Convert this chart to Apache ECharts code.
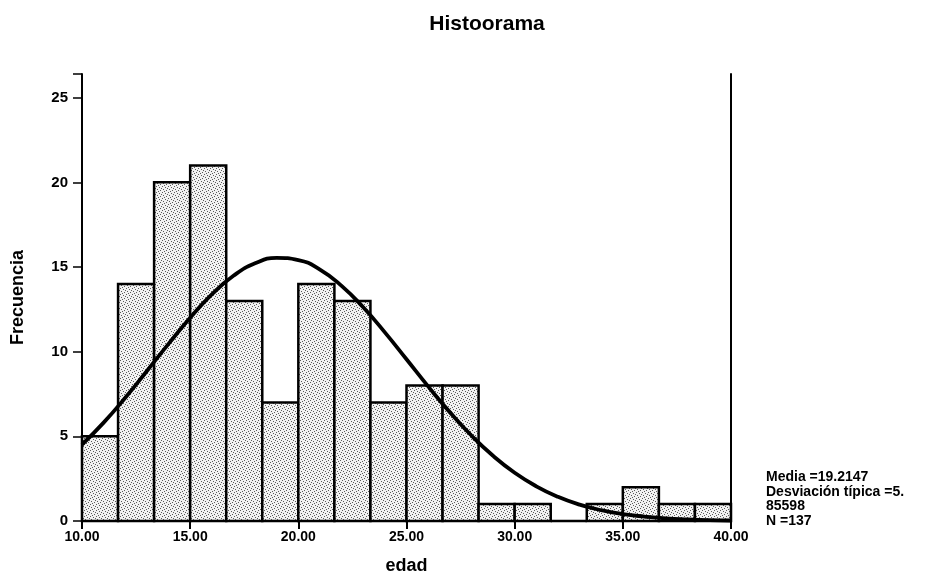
<!DOCTYPE html>
<html>
<head>
<meta charset="utf-8">
<script src="https://cdn.jsdelivr.net/npm/echarts@6/dist/echarts.min.js"></script>
<style>html,body{margin:0;padding:0;background:#fff}#c{width:929px;height:584px}</style>
</head>
<body>
<div id="c"></div>
<script>
// Histogram bins (edad) and frequencies
const binEdges = [10, 11.667, 13.333, 15, 16.667, 18.333, 20, 21.667, 23.333, 25, 26.667, 28.333, 30, 31.667, 33.333, 35, 36.667, 38.333, 40];
const counts = [5, 14, 20, 21, 13, 7, 14, 13, 7, 8, 8, 1, 1, 0, 1, 2, 1, 1];
// Normal curve points
const curveX = [10,11,12,13,14,15,16,17,18,19,20,21,22,23,24,25,26,27,28,29,30,31,32,33,34,35,36,37,38,39,40];
const curveY = [4.51,5.81,7.28,8.86,10.46,12.00,13.38,14.48,15.22,15.54,15.41,14.85,13.89,12.62,11.14,9.55,7.95,6.43,5.05,3.85,2.85,2.05,1.43,0.97,0.64,0.41,0.26,0.15,0.09,0.05,0.03];
const xTickLabels = ["10.00","15.00","20.00","25.00","30.00","35.00","40.00"];
const yTickLabels = ["0","5","10","15","20","25"];
const statsLines = ["Media =19.2147", "Desviación típica =5.", "85598", "N =137"];

// stipple texture
const pc = document.createElement('canvas');
pc.width = 6; pc.height = 6;
const g = pc.getContext('2d');
g.fillStyle = '#f2f2f2'; g.fillRect(0,0,6,6);
g.fillStyle = '#5a5a5a';
[[0,0],[3,1],[1,3],[4,4],[5,2],[2,5]].forEach(p=>g.fillRect(p[0],p[1],1,1));

const barData = counts.map((c,i)=>[binEdges[i], binEdges[i+1], c]);
const lineData = curveX.map((x,i)=>[x, curveY[i]]);

const font = 'Arial, "Liberation Sans", sans-serif';
const chart = echarts.init(document.getElementById('c'));
chart.setOption({
  animation:false,
  backgroundColor:'#fff',
  title:{text:'Histoorama', left:482, top:9, textAlign:'center',
    textStyle:{fontFamily:font, fontWeight:'bold', fontSize:21, color:'#000'}},
  grid:{left:82, right:198, top:74, bottom:63, containLabel:false},
  xAxis:[{
    type:'value', min:10, max:40, interval:5,
    name:'edad', nameLocation:'middle', nameGap:36,
    nameTextStyle:{fontFamily:font, fontWeight:'bold', fontSize:18, color:'#000'},
    axisLine:{show:true, lineStyle:{color:'#000', width:2}},
    axisTick:{show:true, length:8, lineStyle:{color:'#000', width:2}},
    axisLabel:{fontFamily:font, fontWeight:'bold', fontSize:14, color:'#000', margin:9,
      formatter:(v)=>xTickLabels[Math.round((v-10)/5)]},
    splitLine:{show:false}
  },{
    type:'value', min:10, max:40, position:'top',
    axisLine:{show:true, lineStyle:{color:'#aaa', width:1, type:'dotted'}},
    axisTick:{show:false}, axisLabel:{show:false}, splitLine:{show:false}
  }],
  yAxis:[{
    type:'value', min:0, max:26.4, interval:5,
    name:'Frecuencia', nameLocation:'middle', nameGap:55, nameRotate:90,
    nameTextStyle:{fontFamily:font, fontWeight:'bold', fontSize:18, color:'#000'},
    axisLine:{show:true, lineStyle:{color:'#000', width:2}},
    axisTick:{show:true, length:9, lineStyle:{color:'#000', width:1.5}},
    axisLabel:{fontFamily:font, fontWeight:'bold', fontSize:15, color:'#000', margin:14,
      formatter:(v)=>{const i=Math.round(v/5); return (Math.abs(v-i*5)<1e-6 && yTickLabels[i]!==undefined)?yTickLabels[i]:'';}},
    splitLine:{show:false}
  },{
    type:'value', min:0, max:26.4, position:'right',
    axisLine:{show:true, lineStyle:{color:'#000', width:2}},
    axisTick:{show:false}, axisLabel:{show:false}, splitLine:{show:false}
  }],
  series:[{
    type:'custom',
    xAxisIndex:0, yAxisIndex:0,
    data:barData,
    encode:{x:[0,1], y:2},
    renderItem:function(params, api){
      const p0 = api.coord([api.value(0), api.value(2)]);
      const p1 = api.coord([api.value(1), 0]);
      return {type:'rect',
        shape:{x:p0[0], y:p0[1], width:p1[0]-p0[0], height:p1[1]-p0[1]},
        style:{fill:{image:pc, repeat:'repeat'}, stroke:'#000', lineWidth:2.5}};
    },
    z:2
  },{
    type:'line',
    xAxisIndex:0, yAxisIndex:0,
    data:lineData, smooth:true, symbol:'none',
    lineStyle:{color:'#000', width:3.8},
    z:3
  }],
  graphic:[{
    type:'text', left:766, top:470,
    style:{text:statsLines.join('\n'), fontFamily:font, fontWeight:'bold', fontSize:14, lineHeight:14.5, fill:'#000'}
  }]
});
</script>
</body>
</html>
